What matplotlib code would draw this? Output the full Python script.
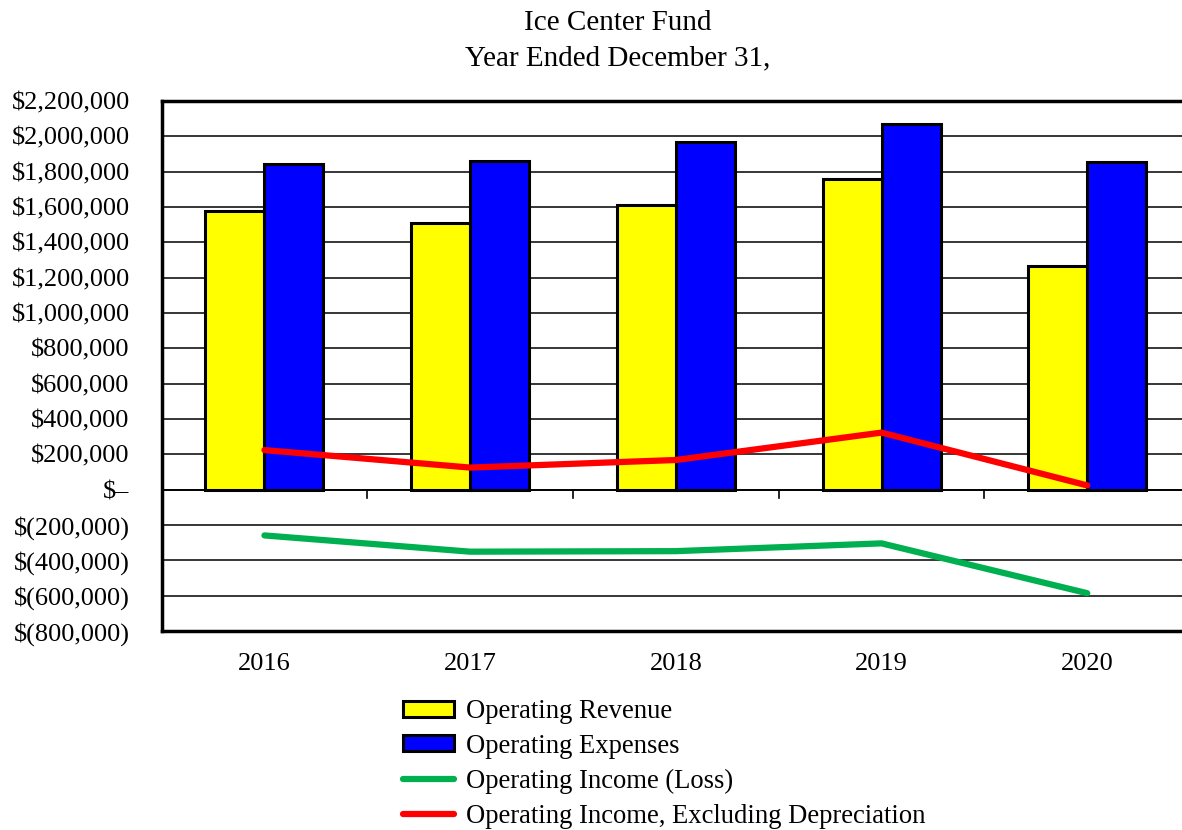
import numpy as np
import matplotlib
matplotlib.use("Agg")
import matplotlib.pyplot as plt
from matplotlib.ticker import FuncFormatter, FixedLocator

plt.rcParams['font.family'] = ['Liberation Serif', 'DejaVu Serif']

years = ["2016", "2017", "2018", "2019", "2020"]
revenue = [1578000, 1510000, 1612000, 1760000, 1265000]
expenses = [1841000, 1862000, 1966000, 2068000, 1853000]
op_income = [-259000, -351000, -348000, -304000, -586000]
op_income_ex_dep = [224000, 125000, 168000, 323000, 24000]


def money(v, pos=None):
    if v == 0:
        return "$–"
    if v < 0:
        return "$({:,.0f})".format(-v)
    return "${:,.0f}".format(v)


fig = plt.figure(figsize=(11.82, 8.30), dpi=100)
ax = fig.add_axes([161.6 / 1182, 199 / 830, 1028.5 / 1182, 530 / 830])

x = np.arange(len(years))
w = 0.287
ax.bar(x - w / 2, revenue, w, color="#FFFF00", edgecolor="black", linewidth=2.2,
       label="Operating Revenue", zorder=3)
ax.bar(x + w / 2, expenses, w, color="#0000FF", edgecolor="black", linewidth=2.2,
       label="Operating Expenses", zorder=3)
ax.plot(x, op_income, color="#00B050", linewidth=4.5, solid_capstyle="round",
        label="Operating Income (Loss)", zorder=4)
ax.plot(x, op_income_ex_dep, color="#FF0000", linewidth=4.5, solid_capstyle="round",
        label="Operating Income, Excluding Depreciation", zorder=4)

ax.set_xlim(-0.5, 4.5)
ax.set_ylim(-800000, 2200000)
ax.yaxis.set_major_locator(FixedLocator(np.arange(-800000, 2200001, 200000)))
ax.yaxis.set_major_formatter(FuncFormatter(money))
ax.grid(axis="y", color="black", linewidth=1.1, zorder=0)
ax.axhline(0, color="black", linewidth=1.3, zorder=2)

# category boundary ticks hanging from the zero line
for b in np.arange(0.5, 4.5, 1.0):
    ax.plot([b, b], [0, -45000], color="black", linewidth=1.2, zorder=2)

ax.set_xticks(x)
ax.set_xticklabels(years)
ax.tick_params(axis="x", length=0, pad=16, labelsize=19)
ax.tick_params(axis="y", length=0, pad=23, labelsize=19)

for s in ["left", "top", "bottom"]:
    ax.spines[s].set_linewidth(2.5)
    ax.spines[s].set_color("black")
ax.spines["right"].set_visible(False)

fig.text(0.523, 0.988, "Ice Center Fund\nYear Ended December 31,", ha="center", va="top",
         fontsize=21, linespacing=1.45)

h, l = ax.get_legend_handles_labels()
order = [l.index("Operating Revenue"), l.index("Operating Expenses"),
         l.index("Operating Income (Loss)"),
         l.index("Operating Income, Excluding Depreciation")]
fig.legend([h[i] for i in order], [l[i] for i in order], loc="upper left",
           bbox_to_anchor=(403 / 1182, 1 - 699 / 830), frameon=False, fontsize=19.2,
           handlelength=1.9, handleheight=0.55, handletextpad=0.45, labelspacing=0.37,
           borderaxespad=0, borderpad=0)

fig.savefig("out.png", dpi=100)
